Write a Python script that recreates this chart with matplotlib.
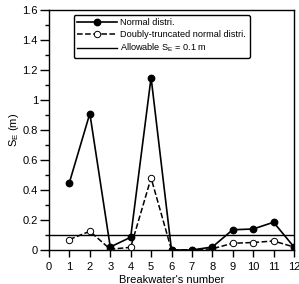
import matplotlib
matplotlib.use("Agg")
import matplotlib.pyplot as plt
from matplotlib.ticker import MultipleLocator

plt.rcParams['font.family'] = ['Liberation Sans', 'DejaVu Sans']
plt.rcParams['mathtext.fontset'] = 'custom'
plt.rcParams['mathtext.rm'] = 'Liberation Sans'
plt.rcParams['mathtext.it'] = 'Liberation Sans'

breakwater = [1, 2, 3, 4, 5, 6, 7, 8, 9, 10, 11, 12]
normal = [0.45, 0.91, 0.02, 0.085, 1.15, 0.0, 0.0, 0.02, 0.135, 0.14, 0.185, 0.02]
doubly = [0.07, 0.125, 0.005, 0.018, 0.48, 0.0, 0.0, 0.008, 0.045, 0.05, 0.06, 0.02]
allowable = 0.1

fig = plt.figure(figsize=(2.99, 2.84), dpi=100)
ax = fig.add_axes([49/299, 1-250/284, 245/299, 240/284])

ax.plot(breakwater, normal, '-', color='black', lw=1.2, marker='o', ms=4.6,
        mfc='black', mec='black', label='Normal distri.', zorder=4)
ax.plot(breakwater, doubly, '--', color='black', lw=1.1, marker='o', ms=4.6,
        mfc='white', mec='black', mew=0.7, label='Doubly-truncated normal distri.', zorder=3)
ax.axhline(allowable, color='black', lw=1.0, label='Allowable S$_E$ = 0.1 m')

ax.set_xlim(0, 12)
ax.set_ylim(0, 1.6)
ax.xaxis.set_major_locator(MultipleLocator(1))
ax.yaxis.set_minor_locator(MultipleLocator(0.1))
ax.tick_params(axis='both', which='major', direction='out', width=1, labelsize=8, colors='black')
ax.tick_params(axis='x', which='major', length=5, pad=4)
ax.tick_params(axis='y', which='major', length=6.5, pad=1.5)
ax.tick_params(axis='y', which='minor', direction='out', length=3, width=1)
ax.set_yticks([0, 0.2, 0.4, 0.6, 0.8, 1.0, 1.2, 1.4, 1.6])
ax.set_yticklabels(['0', '0.2', '0.4', '0.6', '0.8', '1', '1.2', '1.4', '1.6'])
for s in ax.spines.values():
    s.set_linewidth(1.0)

ax.set_xlabel("Breakwater's number", fontsize=8, labelpad=1.5)
ax.set_ylabel("S$_E$ (m)", fontsize=8, labelpad=1)

leg = ax.legend(loc='upper left', bbox_to_anchor=(0.1, 0.98), fontsize=6.6,
                handlelength=4.3, frameon=True, fancybox=True, borderpad=0.4,
                labelspacing=0.3, handletextpad=0.4, borderaxespad=0)
leg.get_frame().set_edgecolor('black')
leg.get_frame().set_linewidth(1.0)
leg.get_frame().set_alpha(1)

fig.savefig('out.png', dpi=100)
